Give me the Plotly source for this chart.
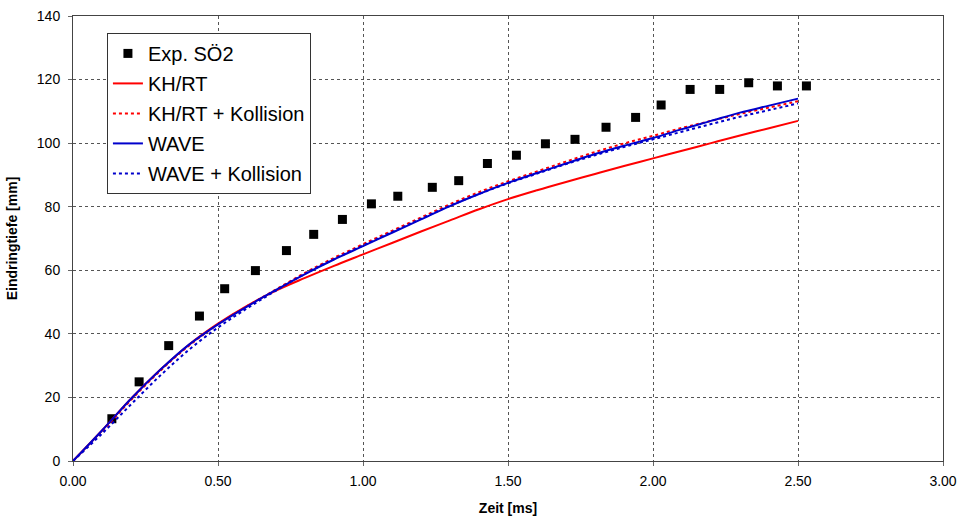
import plotly.graph_objects as go

# Experimental data
exp_x = [0.134, 0.228, 0.330, 0.436, 0.523, 0.629, 0.736, 0.830, 0.929, 1.029,
         1.120, 1.239, 1.330, 1.429, 1.529, 1.629, 1.731, 1.838, 1.940, 2.028,
         2.128, 2.230, 2.330, 2.429, 2.529]
exp_y = [13.3, 24.9, 36.3, 45.6, 54.2, 59.9, 66.2, 71.3, 76.0, 80.9,
         83.3, 86.1, 88.2, 93.6, 96.2, 99.8, 101.2, 105.0, 108.1, 112.0,
         116.9, 116.9, 119.0, 118.0, 118.0]

# Simulation curves
t = [0.0, 0.1, 0.2, 0.3, 0.4, 0.5, 0.6, 0.7, 0.8, 0.9, 1.0, 1.1, 1.2, 1.3,
     1.4, 1.5, 1.6, 1.7, 1.8, 1.9, 2.0, 2.1, 2.2, 2.3, 2.4, 2.5]
khrt = [0.0, 9.6, 19.6, 28.6, 36.6, 43.2, 48.8, 53.6, 57.6, 61.4, 65.0, 68.6,
        72.2, 75.7, 79.2, 82.4, 85.2, 87.8, 90.3, 92.8, 95.2, 97.6, 100.0,
        102.4, 104.7, 107.0]
khrt_koll = [0.0, 9.3, 19.2, 28.3, 36.3, 43.0, 48.7, 54.0, 59.2, 63.9, 68.2, 72.4,
             76.6, 80.8, 84.6, 88.0, 91.1, 94.2, 97.2, 99.9, 102.3, 104.8,
             107.0, 109.2, 111.2, 113.2]
wave = [0.0, 9.6, 19.6, 28.6, 36.6, 43.0, 48.6, 53.8, 58.8, 63.4, 67.6, 71.8,
        76.0, 80.2, 84.0, 87.5, 90.6, 93.6, 96.6, 99.2, 101.6, 104.4, 107.0,
        109.6, 111.8, 114.0]
wave_koll = [0.0, 8.6, 17.8, 26.8, 35.0, 42.0, 48.0, 53.6, 58.9, 63.5, 67.8, 72.0,
             76.2, 80.3, 84.0, 87.4, 90.4, 93.4, 96.2, 98.8, 101.2, 103.6, 106.0,
             108.3, 110.4, 112.5]

fig = go.Figure()
fig.add_trace(go.Scatter(x=exp_x, y=exp_y, mode="markers", name="Exp. SÖ2",
                         marker=dict(symbol="square", size=9, color="black"),
                         legendgroup="a"))
fig.add_trace(go.Scatter(x=t, y=khrt, mode="lines", name="KH/RT",
                         line=dict(color="#ff0000", width=2, shape="spline"),
                         legendgroup="b"))
fig.add_trace(go.Scatter(x=t, y=khrt_koll, mode="lines", name="KH/RT + Kollision",
                         line=dict(color="#ff0000", width=2, dash="dot", shape="spline"),
                         legendgroup="c"))
fig.add_trace(go.Scatter(x=t, y=wave, mode="lines", name="WAVE",
                         line=dict(color="#0000cc", width=2, shape="spline"),
                         legendgroup="d"))
fig.add_trace(go.Scatter(x=t, y=wave_koll, mode="lines", name="WAVE + Kollision",
                         line=dict(color="#0000cc", width=2, dash="dot", shape="spline"),
                         legendgroup="e"))

axis_common = dict(
    showgrid=True, gridcolor="#555555", griddash="dot", gridwidth=1,
    showline=True, linecolor="#444444", linewidth=1, mirror=True,
    ticks="outside", ticklen=4, tickcolor="#666666",
    tickfont=dict(family="Liberation Sans, Arial", size=14, color="black"),
    zeroline=False, automargin=False, ticklabeloverflow="allow",
)

fig.update_layout(
    width=961, height=523,
    margin=dict(l=73, r=18, t=16, b=62),
    paper_bgcolor="white", plot_bgcolor="white",
    xaxis=dict(range=[0, 3], tickvals=[0, 0.5, 1, 1.5, 2, 2.5, 3],
               ticktext=["0.00", "0.50", "1.00", "1.50", "2.00", "2.50", "3.00"],
               ticklabelstandoff=3,
               title=dict(text="<b>Zeit [ms]</b>",
                          font=dict(family="Liberation Sans, Arial", size=14, color="black")),
               **axis_common),
    yaxis=dict(range=[0, 140], dtick=20, ticklabelstandoff=5,
               title=dict(text="<b>Eindringtiefe [mm]</b>",
                          font=dict(family="Liberation Sans, Arial", size=14, color="black")),
               **axis_common),
    legend=dict(x=0.039, y=0.962, xanchor="left", yanchor="top",
                bgcolor="white", bordercolor="#333333", borderwidth=1,
                font=dict(family="Liberation Sans, Arial", size=20, color="black"),
                tracegroupgap=1),
    showlegend=True,
)

fig.write_html("out.html", config={"displayModeBar": False},
               post_script="document.body.style.margin='0';document.body.style.overflow='hidden';")
